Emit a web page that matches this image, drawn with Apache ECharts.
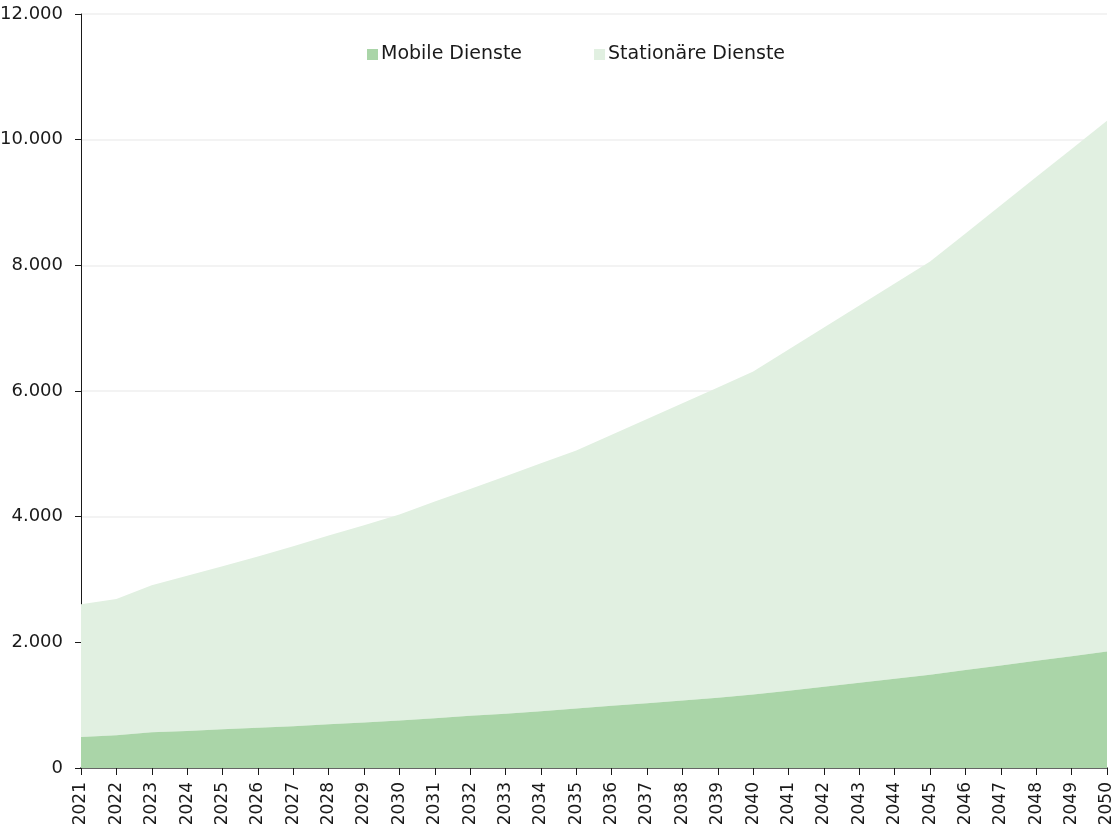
<!DOCTYPE html>
<html>
<head>
<meta charset="utf-8">
<script src="https://cdn.jsdelivr.net/npm/echarts@6/dist/echarts.min.js"></script>
<style>
html,body{margin:0;padding:0;background:#fff;}
#chart{width:1115px;height:828px;}
</style>
</head>
<body>
<div id="chart"></div>
<script>
const years = ['2021','2022','2023','2024','2025','2026','2027','2028','2029','2030',
  '2031','2032','2033','2034','2035','2036','2037','2038','2039','2040',
  '2041','2042','2043','2044','2045','2046','2047','2048','2049','2050'];
const mobileDienste = [495,520,570,590,615,640,665,695,725,755,
  790,830,865,905,945,990,1030,1075,1120,1170,
  1230,1295,1355,1420,1485,1560,1630,1705,1780,1855];
const stationaereDienste = [2110,2170,2340,2470,2595,2725,2865,3005,3140,3280,
  3450,3610,3780,3945,4110,4315,4525,4730,4935,5140,
  5430,5715,6005,6290,6575,6945,7325,7700,8070,8445];
const yTicks = {min: 0, max: 12000, interval: 2000};

const FONT = '"DejaVu Sans", sans-serif';
function fmt(v){ return String(v).replace(/\B(?=(\d{3})+(?!\d))/g, '.'); }

const chart = echarts.init(document.getElementById('chart'), null, {renderer:'canvas'});
chart.setOption({
  animation: false,
  backgroundColor: '#ffffff',
  textStyle: {fontFamily: FONT},
  legend: {
    top: 40,
    left: 362,
    itemWidth: 11,
    itemHeight: 11,
    itemGap: 72,
    icon: 'rect',
    textStyle: {fontSize: 19, color: '#1a1a1a', fontFamily: FONT, padding: [0,0,0,-2]},
    data: ['Mobile Dienste', 'Stationäre Dienste']
  },
  grid: {left: 81, right: 8, top: 14, bottom: 60, containLabel: false, outerBoundsMode: 'none'},
  xAxis: {
    type: 'category',
    data: years,
    boundaryGap: false,
    axisLine: {lineStyle: {color: '#666666', width: 2}},
    axisTick: {show: true, length: 7, lineStyle: {color: '#1a1a1a', width: 1}, alignWithLabel: true},
    axisLabel: {rotate: 90, interval: 0, fontSize: 17, color: '#1a1a1a', margin: 14, fontFamily: FONT},
    splitLine: {show: false}
  },
  yAxis: {
    type: 'value',
    min: yTicks.min, max: yTicks.max, interval: yTicks.interval,
    axisLine: {show: true, lineStyle: {color: '#1a1a1a', width: 1}},
    axisTick: {show: true, length: 6, lineStyle: {color: '#1a1a1a'}},
    axisLabel: {fontSize: 18, color: '#1a1a1a', margin: 18, formatter: fmt, fontFamily: FONT},
    splitLine: {show: true, lineStyle: {color: '#efefef', width: 1.5}}
  },
  series: [
    {
      name: 'Mobile Dienste', type: 'line', stack: 'total', data: mobileDienste,
      symbol: 'none', lineStyle: {width: 0}, itemStyle: {color: '#aad5a8'},
      areaStyle: {color: '#aad5a8', opacity: 1}, z: 3
    },
    {
      name: 'Stationäre Dienste', type: 'line', stack: 'total', data: stationaereDienste,
      symbol: 'none', lineStyle: {width: 0}, itemStyle: {color: '#e1f0e1'},
      areaStyle: {color: '#e1f0e1', opacity: 1}, z: 2
    }
  ]
});
</script>
</body>
</html>
